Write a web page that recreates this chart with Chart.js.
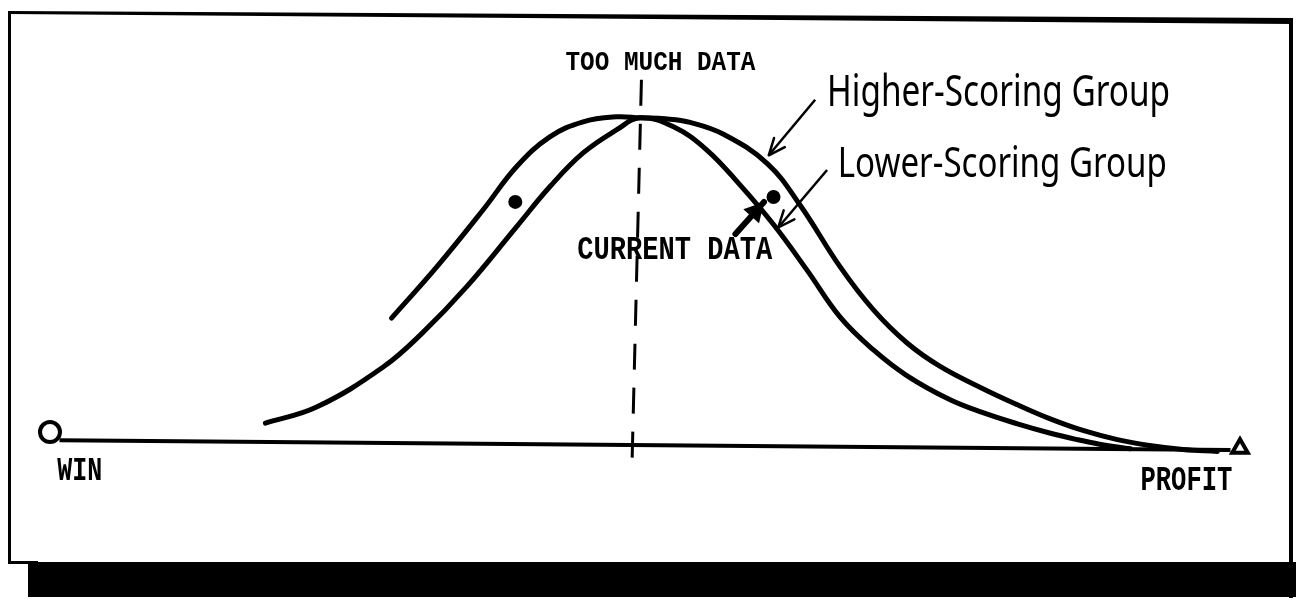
<!DOCTYPE html>
<html>
<head>
<meta charset="utf-8">
<script src="https://cdn.jsdelivr.net/npm/chart.js@4.4.1/dist/chart.umd.min.js"></script>
<style>
  html, body { margin: 0; padding: 0; background: #fff; }
  #wrap { width: 1296px; height: 605px; position: relative; }
</style>
</head>
<body>
<div id="wrap"><canvas id="bellChart"></canvas></div>
<script>
// x = position on the WIN (0) .. PROFIT (100) line, y = curve height (peak = 100)
const higherX = [28.7, 32.5, 36.4, 39.2, 42.0, 44.8, 47.6, 49.6, 51.7, 53.8, 56.6, 60.3, 63.0, 66.4, 69.2, 72.0, 74.8, 78.4, 81.3, 84.0, 86.8, 89.7, 92.4, 95.2, 98.1];
const higherY = [39.0, 54.6, 72.0, 85.1, 94.2, 98.8, 100.3, 100.0, 99.7, 98.6, 95.0, 86.0, 73.6, 54.6, 41.5, 31.5, 24.3, 17.5, 12.6, 8.4, 4.8, 2.0, 0.2, -1.0, -1.6];

const lowerX = [18.1, 22.4, 28.0, 31.3, 35.0, 39.2, 42.0, 44.8, 47.6, 49.6, 52.4, 55.2, 58.0, 60.8, 63.6, 66.4, 69.2, 72.0, 75.6, 78.4, 81.3, 84.0, 86.3, 88.2, 90.8];
const lowerY = [7.0, 11.9, 24.1, 34.5, 48.5, 66.8, 79.0, 89.3, 96.3, 100.0, 97.3, 90.2, 79.5, 67.5, 53.7, 39.3, 29.3, 21.5, 14.2, 10.2, 6.8, 4.0, 2.0, 0.6, -0.8];

const baseX = [0.8, 99.2];
const baseY = [1.8, -1.2];

// "too much data" marker line
const dashX = [49.7, 48.9];
const dashY = [111.6, -6.7];

// WIN / PROFIT end marks
const endX = [0, 100];
const endY = [4.3, -0.6];

// data points between the two curves
const dotX = [39.1, 60.8];
const dotY = [74.4, 75.9];

// label arrows: [start, tip]
const higherArrowX = [64.3, 60.4];
const higherArrowY = [105.5, 88.6];
const lowerArrowX = [65.3, 61.2];
const lowerArrowY = [84.1, 66.6];
const currentArrowX = [57.6, 60.0];
const currentArrowY = [64.6, 74.4];

const pts = (xs, ys) => xs.map((x, i) => ({ x, y: ys[i] }));

// scanned page frame with the heavy shadow at the bottom
const framePlugin = {
  id: 'frame',
  beforeDraw(chart) {
    const ctx = chart.ctx;
    ctx.save();
    ctx.fillStyle = '#fff';
    ctx.fillRect(0, 0, chart.width, chart.height);
    ctx.fillStyle = '#000';
    // top edge, a bit thicker and lower on the right
    ctx.beginPath();
    ctx.moveTo(9, 11);
    ctx.lineTo(1293, 18);
    ctx.lineTo(1293, 24);
    ctx.lineTo(9, 14);
    ctx.closePath();
    ctx.fill();
    // left / right edges
    ctx.fillRect(8, 11, 3, 553);
    ctx.fillRect(1289, 18, 4, 580);
    // bottom line and shadow band
    ctx.fillRect(8, 561, 30, 3);
    ctx.fillRect(28, 562, 1268, 35);
    ctx.restore();
  }
};

function drawHead(ctx, x0, y0, x1, y1, len, spread, filled) {
  const a = Math.atan2(y1 - y0, x1 - x0);
  const p1 = [x1 - len * Math.cos(a - spread), y1 - len * Math.sin(a - spread)];
  const p2 = [x1 - len * Math.cos(a + spread), y1 - len * Math.sin(a + spread)];
  ctx.beginPath();
  if (filled) {
    ctx.moveTo(x1, y1);
    ctx.lineTo(p1[0], p1[1]);
    ctx.lineTo(p2[0], p2[1]);
    ctx.closePath();
    ctx.fill();
  } else {
    ctx.moveTo(p1[0], p1[1]);
    ctx.lineTo(x1, y1);
    ctx.lineTo(p2[0], p2[1]);
    ctx.stroke();
  }
}

// arrow heads at the last point of datasets flagged with "arrow"
const arrowPlugin = {
  id: 'arrowHeads',
  afterDatasetsDraw(chart) {
    const ctx = chart.ctx;
    chart.data.datasets.forEach((ds, i) => {
      if (!ds.arrow) return;
      const els = chart.getDatasetMeta(i).data;
      const a = els[els.length - 2], b = els[els.length - 1];
      ctx.save();
      ctx.strokeStyle = '#000';
      ctx.fillStyle = '#000';
      ctx.lineWidth = ds.borderWidth;
      ctx.lineCap = 'round';
      ctx.lineJoin = 'round';
      drawHead(ctx, a.x, a.y, b.x, b.y, ds.arrow.len, ds.arrow.spread, ds.arrow.filled);
      ctx.restore();
    });
  }
};

// text squeezed to the width it has on the scan
const labelPlugin = {
  id: 'textLabels',
  afterDatasetsDraw(chart, args, opts) {
    const ctx = chart.ctx;
    const sx = chart.scales.x, sy = chart.scales.y;
    opts.items.forEach(it => {
      ctx.save();
      ctx.font = it.font;
      ctx.fillStyle = '#000';
      ctx.textBaseline = 'alphabetic';
      ctx.textAlign = it.align;
      const w = ctx.measureText(it.text).width;
      ctx.translate(sx.getPixelForValue(it.x), sy.getPixelForValue(it.y));
      ctx.scale(it.width / w, 1);
      ctx.fillText(it.text, 0, 0);
      ctx.restore();
    });
  }
};

const mono = 'bold {s}px "Liberation Mono", "DejaVu Sans Mono", monospace';
const sans = '{s}px "Noto Sans", Lato, sans-serif';

new Chart(document.getElementById('bellChart'), {
  type: 'line',
  data: {
    datasets: [
      { label: 'Baseline', data: pts(baseX, baseY), borderColor: '#000', borderWidth: 4, pointRadius: 0 },
      { label: 'Higher-Scoring Group', data: pts(higherX, higherY), borderColor: '#000', borderWidth: 5,
        pointRadius: 0, tension: 0.4, borderCapStyle: 'round' },
      { label: 'Lower-Scoring Group', data: pts(lowerX, lowerY), borderColor: '#000', borderWidth: 5,
        pointRadius: 0, tension: 0.4, borderCapStyle: 'round' },
      { label: 'Too much data', data: pts(dashX, dashY), borderColor: '#000', borderWidth: 3,
        borderDash: [26, 18], pointRadius: 0 },
      { label: 'Ends', data: pts(endX, endY), showLine: false, pointStyle: ['circle', 'triangle'],
        pointRadius: [10, 9], pointBorderWidth: 4, pointBackgroundColor: '#fff', pointBorderColor: '#000' },
      { label: 'Dots', data: pts(dotX, dotY), showLine: false, pointRadius: 7,
        pointBackgroundColor: '#000', pointBorderColor: '#000', pointBorderWidth: 0 },
      { label: 'Higher arrow', data: pts(higherArrowX, higherArrowY), borderColor: '#000', borderWidth: 2.5,
        pointRadius: 0, arrow: { len: 18, spread: 0.4, filled: false } },
      { label: 'Lower arrow', data: pts(lowerArrowX, lowerArrowY), borderColor: '#000', borderWidth: 2.5,
        pointRadius: 0, arrow: { len: 18, spread: 0.4, filled: false } },
      { label: 'Current arrow', data: pts(currentArrowX, currentArrowY), borderColor: '#000', borderWidth: 6,
        borderCapStyle: 'round', pointRadius: 0, arrow: { len: 22, spread: 0.5, filled: true } }
    ]
  },
  options: {
    responsive: true,
    maintainAspectRatio: false,
    animation: false,
    events: [],
    layout: { autoPadding: false, padding: { left: 50, right: 56, top: 85, bottom: 126 } },
    elements: { line: { fill: false, tension: 0 } },
    datasets: { line: { clip: false } },
    scales: {
      x: { type: 'linear', min: 0, max: 100, display: false },
      y: { type: 'linear', min: -10, max: 110, display: false }
    },
    plugins: {
      legend: { display: false },
      tooltip: { enabled: false },
      textLabels: {
        items: [
          { text: 'TOO MUCH DATA', x: 51.3, y: 114.6, align: 'center', width: 190, font: mono.replace('{s}', 28) },
          { text: 'CURRENT DATA', x: 52.5, y: 57.0, align: 'center', width: 195, font: mono.replace('{s}', 34) },
          { text: 'WIN', x: 2.5, y: -10.4, align: 'center', width: 45, font: mono.replace('{s}', 33) },
          { text: 'PROFIT', x: 95.5, y: -13.4, align: 'center', width: 92, font: mono.replace('{s}', 35) },
          { text: 'Higher-Scoring Group', x: 65.3, y: 103.7, align: 'left', width: 343, font: sans.replace('{s}', 44) },
          { text: 'Lower-Scoring Group', x: 66.2, y: 82.0, align: 'left', width: 329, font: sans.replace('{s}', 42) }
        ]
      }
    }
  },
  plugins: [framePlugin, arrowPlugin, labelPlugin]
});
</script>
</body>
</html>
